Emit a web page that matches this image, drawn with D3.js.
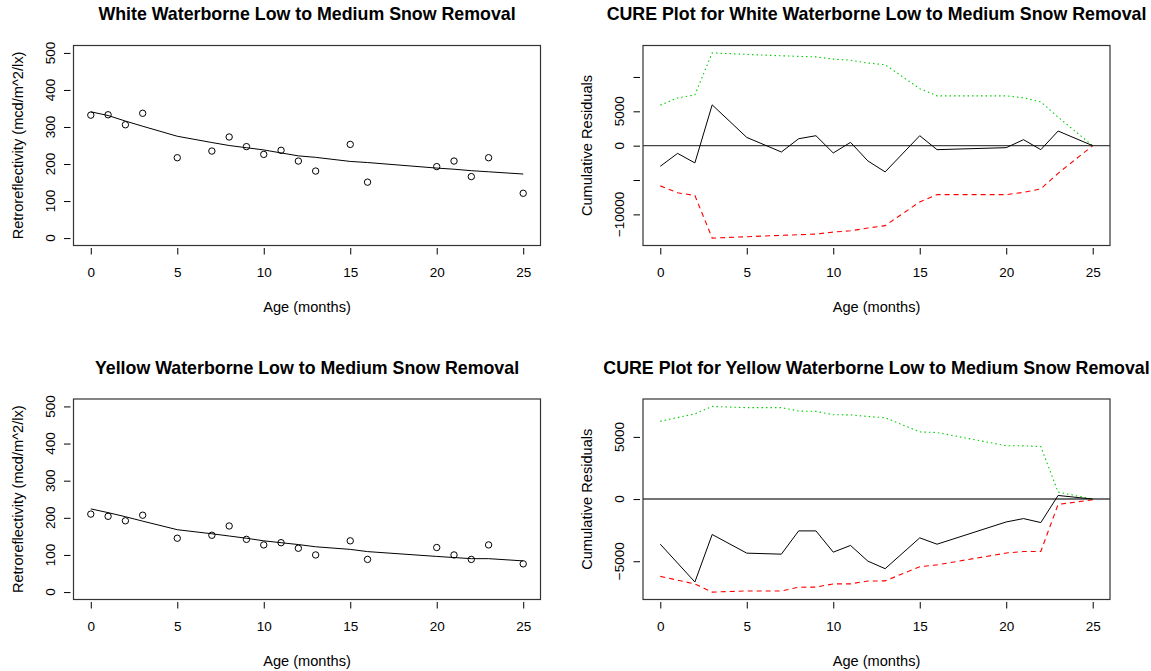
<!DOCTYPE html>
<html>
<head>
<meta charset="utf-8">
<script src="https://cdn.jsdelivr.net/npm/d3@7"></script>
<style>
  html, body { margin: 0; padding: 0; background: #fff; }
  svg { display: block; }
  text { font-family: "Liberation Sans", Arial, Helvetica, sans-serif; fill: #000; }
</style>
</head>
<body>
<svg id="chart" width="1151" height="671"></svg>
<script>
// Age of each observation (months)
const age = [0, 1, 2, 3, 5, 7, 8, 9, 10, 11, 12, 13, 15, 16, 20, 21, 22, 23, 25];

// Observed retroreflectivity (mcd/m^2/lx)
const whiteObserved  = [332, 333, 306, 337, 217, 235, 273, 247, 226, 237, 208, 181, 253, 151, 193, 208, 166, 217, 121];
const yellowObserved = [210, 204, 192, 207, 145, 153, 178, 142, 127, 133, 118, 100, 138, 88, 120, 100, 88, 127, 76];

// Fitted degradation curves
const whiteFitted  = [341, 331, 316, 302, 275, 258, 250, 244, 238, 230, 222, 218, 207, 204, 189, 186, 182, 179, 173];
const yellowFitted = [224, 214, 203, 191, 168, 157, 151, 145, 138, 133, 128, 122, 115, 109, 96, 93, 90, 90, 84];

// CURE plot series: cumulative residuals with upper / lower bounds
const whiteCure  = [-3000, -1120, -2510, 5940, 1200, -920, 1010, 1450, -1060, 480, -2220, -3820, 1450, -580, -290, 870, -580, 2130, 0];
const whiteUpper = [5900, 6950, 7400, 13500, 13280, 13080, 13000, 12920, 12600, 12430, 12020, 11780, 8300, 7250, 7250, 6960, 6380, 4150, 0];
const whiteLower = [-5850, -6850, -7250, -13450, -13250, -13050, -12960, -12870, -12570, -12390, -11990, -11640, -8180, -7120, -7120, -6800, -6280, -4020, 0];

const yellowCure  = [-3630, -5150, -6670, -2850, -4350, -4430, -2560, -2560, -4270, -3730, -4990, -5600, -3120, -3630, -1840, -1570, -1890, 290, 0];
const yellowUpper = [6250, 6560, 6850, 7450, 7350, 7350, 7080, 7050, 6780, 6770, 6640, 6540, 5400, 5350, 4290, 4280, 4220, 560, 0];
const yellowLower = [-6220, -6520, -6830, -7480, -7390, -7390, -7090, -7080, -6820, -6820, -6590, -6580, -5440, -5290, -4340, -4220, -4210, -430, -60];

// Axis ticks
const ageTicks = [0, 5, 10, 15, 20, 25];
const retroTicks = [0, 100, 200, 300, 400, 500];
const whiteCureTicks = [-10000, -5000, 0, 5000, 10000];
const whiteCureLabels = [-10000, 0, 5000];
const yellowCureTicks = [-5000, 0, 5000];
const yellowCureLabels = [-5000, 0, 5000];

// Titles
const titles = [
  "White Waterborne Low to Medium Snow Removal",
  "CURE Plot for White Waterborne Low to Medium Snow Removal",
  "Yellow Waterborne Low to Medium Snow Removal",
  "CURE Plot for Yellow Waterborne Low to Medium Snow Removal"
];

const svg = d3.select("#chart");

// Plot regions (left, right, top, bottom) of the 2 x 2 grid
const cols = [{ l: 73.5, r: 540.5 }, { l: 643, r: 1110 }];
const rows = [{ t: 45.5, b: 245.5 }, { t: 399, b: 599.5 }];

// Pad a numeric range by 4% on each side
function padded(lo, hi) {
  const d = (hi - lo) * 0.04;
  return [lo - d, hi + d];
}

function panel(opts) {
  const { box, title, yTitle, yDomain, yTicks, yLabels } = opts;
  const g = svg.append("g");

  const x = d3.scaleLinear().domain(padded(0, 25)).range([box.l, box.r]);
  const y = d3.scaleLinear().domain(yDomain).range([box.b, box.t]);

  // Bottom axis (detached ticks below the frame)
  const xAxis = g.append("g").attr("transform", `translate(0,${box.b + 2.5})`)
    .call(d3.axisBottom(x).tickValues(ageTicks).tickSize(6.5).tickPadding(13).tickFormat(d3.format("d")));
  xAxis.select(".domain").remove();
  xAxis.selectAll("line").attr("stroke", "#000").attr("stroke-width", 1);
  xAxis.selectAll("text").attr("font-size", 13.5)
    .style("font-family", "'Liberation Sans', Arial, sans-serif");

  // Left axis ticks
  const yAxis = g.append("g").attr("transform", `translate(${box.l - 3},0)`)
    .call(d3.axisLeft(y).tickValues(yTicks).tickSize(6.5).tickFormat(() => ""));
  yAxis.select(".domain").remove();
  yAxis.selectAll("line").attr("stroke", "#000").attr("stroke-width", 1);

  // Rotated y tick labels
  g.selectAll(".ylab").data(yLabels).join("text")
    .attr("class", "ylab")
    .attr("transform", d => `translate(${box.l - 19},${y(d)}) rotate(-90)`)
    .attr("text-anchor", "middle")
    .attr("font-size", 13.5)
    .text(d => d3.format("d")(d));

  // Axis titles
  g.append("text")
    .attr("x", (box.l + box.r) / 2).attr("y", box.b + 66)
    .attr("text-anchor", "middle").attr("font-size", 14.6)
    .text("Age (months)");
  g.append("text")
    .attr("transform", `translate(${box.l - 51},${(box.t + box.b) / 2}) rotate(-90)`)
    .attr("text-anchor", "middle").attr("font-size", 14.6)
    .text(yTitle);

  // Main title
  g.append("text")
    .attr("x", (box.l + box.r) / 2).attr("y", box.t - 25.5)
    .attr("text-anchor", "middle").attr("font-size", 17.8).attr("font-weight", "bold")
    .text(title);

  opts.draw(g, x, y);

  // Frame
  g.append("rect")
    .attr("x", box.l).attr("y", box.t)
    .attr("width", box.r - box.l).attr("height", box.b - box.t)
    .attr("fill", "none").attr("stroke", "#333").attr("stroke-width", 1.2);
}

function scatterPanel(box, title, observed, fitted) {
  panel({
    box, title,
    yTitle: "Retroreflectivity (mcd/m^2/lx)",
    yDomain: padded(0, 500),
    yTicks: retroTicks, yLabels: retroTicks,
    draw(g, x, y) {
      const line = d3.line().x((d, i) => x(age[i])).y(d => y(d));
      g.append("path").datum(fitted)
        .attr("d", line).attr("fill", "none").attr("stroke", "#000").attr("stroke-width", 1);
      g.selectAll("circle").data(observed).join("circle")
        .attr("cx", (d, i) => x(age[i])).attr("cy", d => y(d)).attr("r", 3.2)
        .attr("fill", "none").attr("stroke", "#000").attr("stroke-width", 1);
    }
  });
}

function curePanel(box, title, cure, upper, lower, ticks, labels) {
  const all = cure.concat(upper, lower);
  panel({
    box, title,
    yTitle: "Cumulative  Residuals",
    yDomain: padded(d3.min(all), d3.max(all)),
    yTicks: ticks, yLabels: labels,
    draw(g, x, y) {
      const line = d3.line().x((d, i) => x(age[i])).y(d => y(d));
      g.append("line")
        .attr("x1", box.l).attr("x2", box.r).attr("y1", y(0)).attr("y2", y(0))
        .attr("stroke", "#444").attr("stroke-width", 1.4);
      g.append("path").datum(upper).attr("d", line).attr("fill", "none")
        .attr("stroke", "#00cd00").attr("stroke-width", 1.1).attr("stroke-dasharray", "1.5,3");
      g.append("path").datum(lower).attr("d", line).attr("fill", "none")
        .attr("stroke", "#ff0000").attr("stroke-width", 1.1).attr("stroke-dasharray", "5,4");
      g.append("path").datum(cure).attr("d", line).attr("fill", "none")
        .attr("stroke", "#000").attr("stroke-width", 1);
    }
  });
}

scatterPanel({ ...cols[0], ...rows[0] }, titles[0], whiteObserved, whiteFitted);
curePanel({ ...cols[1], ...rows[0] }, titles[1], whiteCure, whiteUpper, whiteLower, whiteCureTicks, whiteCureLabels);
scatterPanel({ ...cols[0], ...rows[1] }, titles[2], yellowObserved, yellowFitted);
curePanel({ ...cols[1], ...rows[1] }, titles[3], yellowCure, yellowUpper, yellowLower, yellowCureTicks, yellowCureLabels);
</script>
</body>
</html>
